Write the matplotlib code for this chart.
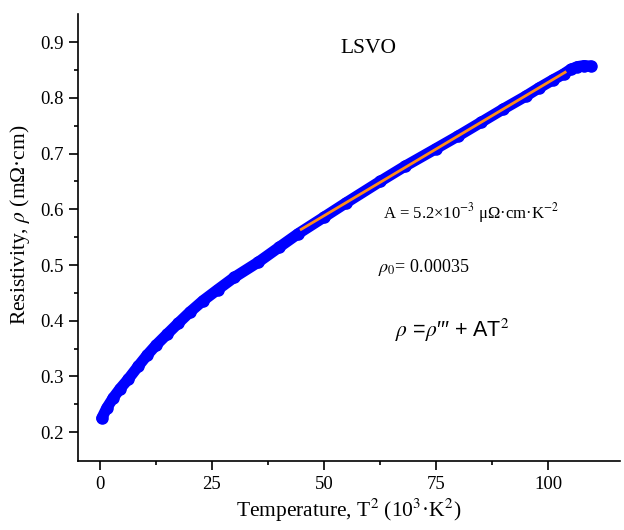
# resistivity vs T^2 plot, LSVO
import matplotlib
matplotlib.use("Agg")
import matplotlib.pyplot as plt

plt.rcParams['font.family'] = ['Liberation Serif', 'DejaVu Sans']
plt.rcParams['mathtext.fontset'] = 'stix'

# data (T^2 in 10^3 K^2, rho in mOhm cm)
t2 = [0.4, 1.5, 3.0, 4.5, 6.3, 8.5, 10.5, 12.5, 15.0, 17.4, 20.0, 23.0, 26.3,
      30.0, 35.3, 40.0, 44.2, 50.0, 55.0, 62.5, 68.0, 75.0, 80.0, 85.0, 90.0,
      95.0, 98.0, 101.0, 103.5, 105.0, 106.5, 108.0, 109.5]
rho = [0.225, 0.243, 0.262, 0.278, 0.295, 0.318, 0.338, 0.356, 0.376, 0.395,
       0.415, 0.436, 0.456, 0.478, 0.505, 0.532, 0.556, 0.586, 0.612, 0.650,
       0.677, 0.709, 0.732, 0.756, 0.780, 0.803, 0.818, 0.832, 0.843, 0.851,
       0.856, 0.858, 0.857]

# linear fit segment
fit_t2 = [44.9, 103.8]
fit_rho = [0.564, 0.846]

fig = plt.figure(figsize=(6.24, 5.30), dpi=100)
ax = fig.add_axes([0.125, 0.130, 0.869, 0.843])

ax.plot(t2, rho, '-', color='#0000FF', lw=8, solid_capstyle='round', zorder=2)
ax.plot(t2, rho, 'o', color='#0000FF', mec='#0000FF', ms=8, zorder=3)
ax.plot(fit_t2, fit_rho, '-', color='#FF8C1A', lw=2, zorder=4)

ax.set_xlim(-4.9, 116.1)
ax.set_ylim(0.148, 0.95)
ax.set_xticks([0, 25, 50, 75, 100])
ax.set_xticks([12.5, 37.5, 62.5, 87.5], minor=True)
ax.set_yticks([0.2, 0.3, 0.4, 0.5, 0.6, 0.7, 0.8, 0.9])
ax.set_yticks([0.25, 0.35, 0.45, 0.55, 0.65, 0.75, 0.85], minor=True)
ax.tick_params(which='major', direction='out', length=6.5, width=1.2, labelsize=13.5)
ax.tick_params(which='minor', direction='out', length=3.2, width=1.2)
ax.tick_params(axis='x', pad=4)
ax.tick_params(axis='y', pad=4)
for s in ['top', 'right']:
    ax.spines[s].set_visible(False)
for s in ['left', 'bottom']:
    ax.spines[s].set_linewidth(1.2)

ax.set_xlabel('Temperature, T$^2$ (10$^3$·K$^2$)', fontsize=15.5, labelpad=3)
ax.set_ylabel(r'Resistivity, $\rho$ (mΩ·cm)', fontsize=15.5, labelpad=5)
ax.yaxis.set_label_coords(-0.084, 0.53)

ax.text(59.8, 0.889, 'LSVO', fontsize=15.5, ha='center', va='center')
ax.text(63.2, 0.593, 'A = 5.2×10$^{-3}$ μΩ·cm·K$^{-2}$',
        fontsize=12, ha='left', va='center')
ax.text(62.0, 0.496, r'$\rho_{\mathit{0}}$= 0.00035', fontsize=13, ha='left', va='center')
ax.text(65.8, 0.383, "$\\rho$ =$\\rho$′′′ + AT$^2$", fontsize=15.5, ha='left', va='center',
        family=['Liberation Sans', 'DejaVu Sans'])

fig.savefig('out.png', dpi=100)
